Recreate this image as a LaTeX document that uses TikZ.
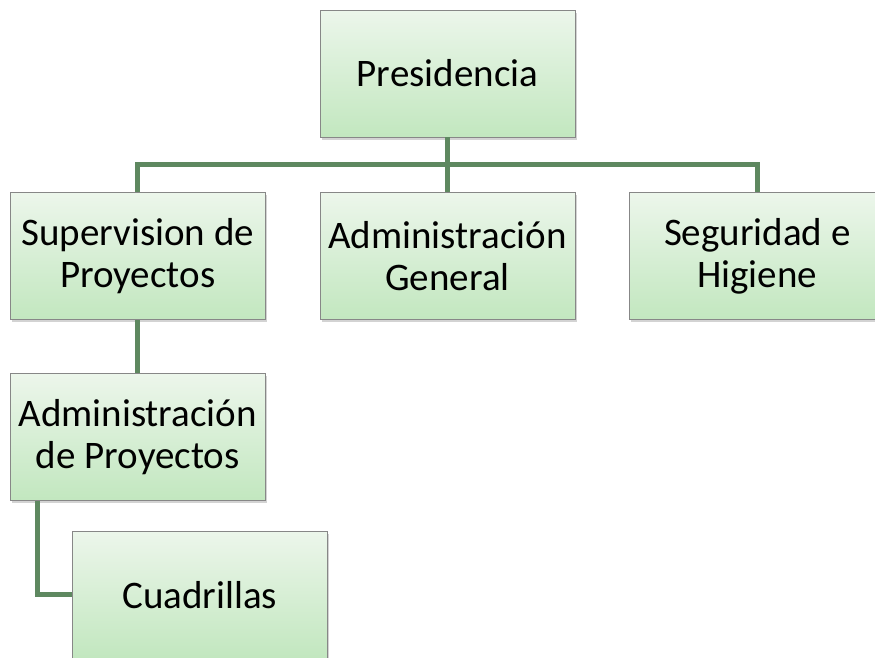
\documentclass[tikz,border=0pt]{standalone}
\usepackage{fontspec}
\setmainfont{Carlito}
\usetikzlibrary{positioning, calc, shadows}
\definecolor{linegreen}{RGB}{94,136,96}
\definecolor{boxtop}{RGB}{236,246,235}
\definecolor{boxbottom}{RGB}{194,231,191}
\definecolor{boxedge}{RGB}{135,135,135}

\begin{document}
\begin{tikzpicture}[
            x = 1pt, y = 1pt,
            node distance = 54pt, % gap between boxes
            line width = 5pt % connector width
        ]

        \tikzstyle{unit}=[
            rectangle,
            draw = boxedge,
            line width = 0.8pt,
            top color = boxtop,
            bottom color = boxbottom,
            drop shadow = {shadow xshift = 1.5pt, shadow yshift = -2.5pt, opacity = 0.35},
            minimum width = 255pt,
            minimum height = 127pt,
            inner sep = 0pt,
            align = center,
            font = \fontsize{39}{42}\selectfont
        ]
        \tikzstyle{link}=[
            draw = linegreen,
            line width = 5pt
        ]

        \useasboundingbox (0,0) rectangle (875,-657);
        \clip (0,0) rectangle (875,-657);

        \node[unit] (pres) at (447.5,-73.5) {Presidencia};
        \node[unit] (adg) [below=55pt of pres] {Administración\\General};
        \node[unit] (sup) [left=of adg] {Supervision de\\Proyectos};
        \node[unit] (seg) [right=of adg] {Seguridad e\\Higiene};
        \node[unit] (adp) [below=53pt of sup] {Administración\\de Proyectos};
        \node[unit, anchor=north west] (cua) at ($(adp.south west)+(62,-30)$) {Cuadrillas};

        \coordinate (bus) at ($(pres.south)!0.5!(adg.north)$);
        \coordinate (drop) at ($(adp.south west)!0.11!(adp.south east)$);

        \draw[link] (pres.south) -- (adg.north);
        \draw[link] (bus) -| (sup.north);
        \draw[link] (bus) -| (seg.north);
        \draw[link] (sup.south) -- (adp.north);
        \draw[link] (drop) |- (cua.west);

\end{tikzpicture}
\end{document}
